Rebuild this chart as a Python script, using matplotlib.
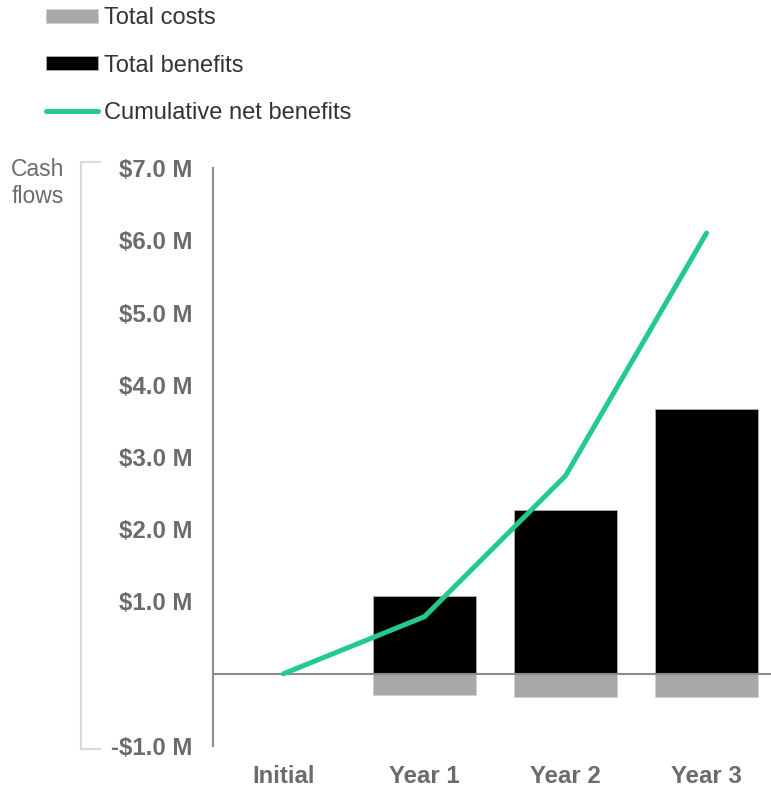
import matplotlib
matplotlib.use("Agg")
import matplotlib.pyplot as plt
from matplotlib.lines import Line2D

plt.rcParams['font.family'] = ['Liberation Sans', 'DejaVu Sans']

categories = ["Initial", "Year 1", "Year 2", "Year 3"]
total_costs = [0.0, -0.29, -0.32, -0.32]
total_benefits = [0.0, 1.08, 2.27, 3.67]
cumulative_net = [0.0, 0.79, 2.74, 6.10]
ytick_values = [-1, 1, 2, 3, 4, 5, 6, 7]
ytick_labels = ["-$1.0 M", "$1.0 M", "$2.0 M", "$3.0 M", "$4.0 M", "$5.0 M", "$6.0 M", "$7.0 M"]

W, H = 771, 790
fig = plt.figure(figsize=(W / 100, H / 100), dpi=100)
ax = fig.add_axes([213 / W, 1 - 746 / H, 1 - 213 / W, (746 - 168) / H])

x = list(range(len(categories)))
bw = 0.73
bc = ax.bar(x, total_costs, width=bw, color="#A8A8A8", edgecolor="#D0D0D0", linewidth=0.6, zorder=2, label="Total costs")
bb = ax.bar(x, total_benefits, width=bw, color="#000000", edgecolor="#B0B0B0", linewidth=0.6, zorder=2, label="Total benefits")
ln, = ax.plot(x, cumulative_net, color="#22CB8B", linewidth=3.6, solid_capstyle="round", zorder=4, label="Cumulative net benefits")
ax.axhline(0, color="#8C8C8C", linewidth=1.5, zorder=3)

ax.set_xlim(-0.5, 3.457)
ax.set_ylim(-1.0, 7.0)
ax.set_yticks(ytick_values)
ax.set_yticklabels(ytick_labels)
ax.set_xticks(x)
ax.set_xticklabels(categories)
for s in ["top", "right", "bottom"]:
    ax.spines[s].set_visible(False)
ax.spines["left"].set_color("#8C8C8C")
ax.spines["left"].set_linewidth(1.5)
ax.tick_params(axis="both", length=0, colors="#6B6B6B", labelsize=17.3)
ax.tick_params(axis="y", pad=15)
ax.tick_params(axis="x", pad=14)
for lbl in ax.get_xticklabels() + ax.get_yticklabels():
    lbl.set_fontweight("bold")

# bracket with axis title
bc_col = "#D9D9D9"
fig.add_artist(Line2D([81 / W, 81 / W], [1 - 162 / H, 1 - 749 / H], color=bc_col, linewidth=1.5))
fig.add_artist(Line2D([81 / W, 100 / W], [1 - 162 / H, 1 - 162 / H], color=bc_col, linewidth=1.5))
fig.add_artist(Line2D([81 / W, 100 / W], [1 - 749 / H, 1 - 749 / H], color=bc_col, linewidth=1.5))
fig.text(64 / W, 1 - 158 / H, "Cash\nflows", ha="right", va="top", fontsize=16.5,
         color="#6B6B6B", linespacing=1.22)

leg = fig.legend(handles=[bc, bb, ln], loc="upper left", bbox_to_anchor=(25 / W, 1 + 14 / H),
                 frameon=False, fontsize=17, handlelength=2.2, handleheight=0.5,
                 handletextpad=0.25, labelspacing=1.07, labelcolor="#333333")

fig.savefig("out.png", dpi=100)
